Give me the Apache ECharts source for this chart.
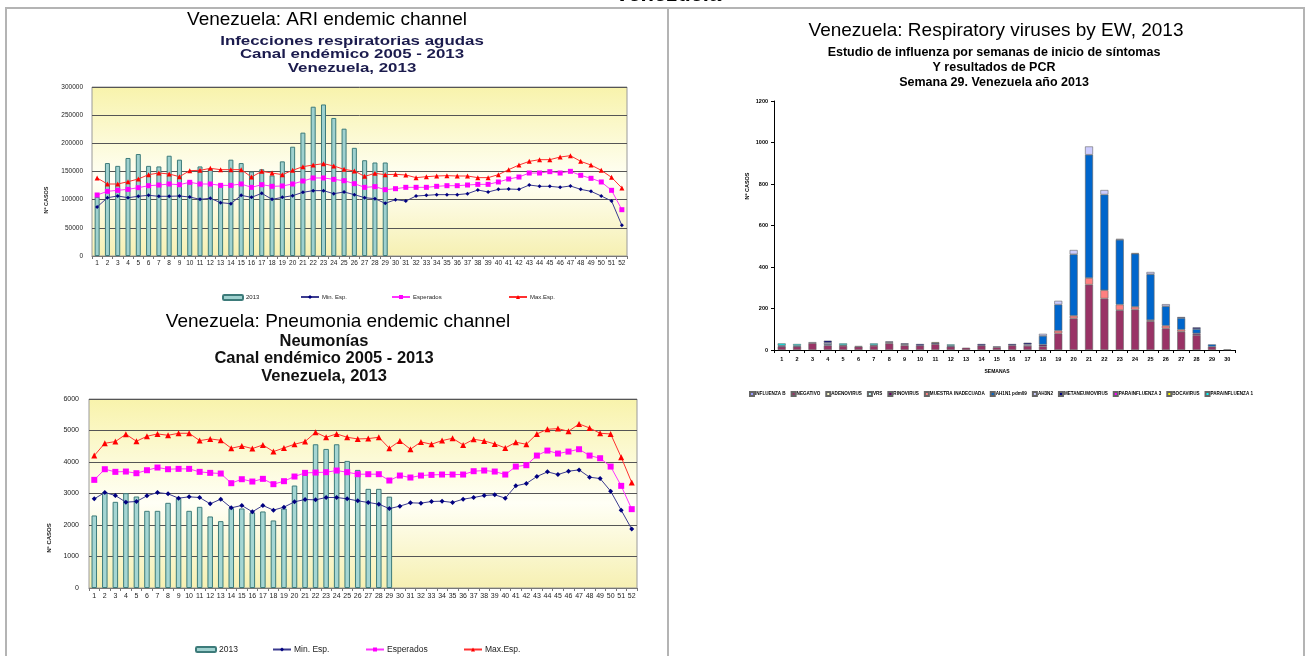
<!DOCTYPE html>
<html><head><meta charset="utf-8">
<script src="https://cdn.jsdelivr.net/npm/echarts@6/dist/echarts.min.js"></script>
<style>html,body{margin:0;padding:0;background:#fff}#c{width:1310px;height:656px}</style>
</head><body><div id="c"></div>
<script>
const weeks52 = ['1','2','3','4','5','6','7','8','9','10','11','12','13','14','15','16','17','18','19','20','21','22','23','24','25','26','27','28','29','30','31','32','33','34','35','36','37','38','39','40','41','42','43','44','45','46','47','48','49','50','51','52'];
const weeks30 = ['1','2','3','4','5','6','7','8','9','10','11','12','13','14','15','16','17','18','19','20','21','22','23','24','25','26','27','28','29','30'];

// ARI endemic channel
const ari2013 = [105000,165000,160000,174000,181000,160000,159000,178000,171000,133000,159000,155000,128000,171000,165000,150000,154000,143000,168000,194000,219000,265000,269000,245000,226000,192000,170000,166000,166000];
const ariMin = [87000,103500,106500,103500,106000,107700,106000,106000,106500,104700,100600,102400,94700,92900,107700,104100,111200,100600,104100,107100,113000,116000,116000,110600,113600,108900,103500,101800,93500,100000,97600,106500,107700,108900,108900,108900,110600,117200,113600,118300,118900,118300,126000,123700,123700,121900,124300,118300,114800,106500,97600,54400];
const ariEsperados = [108300,114800,116600,118300,121300,124800,126000,127800,126600,130800,127800,127800,125400,125400,127800,121900,126600,123700,124300,127800,133100,138500,138500,136100,133700,128400,121900,123100,117700,119500,121900,121900,121900,123700,124800,124800,126000,127200,127200,131400,136700,140200,147300,147300,149700,147300,150300,143200,137900,131400,116600,82200];
const ariMax = [138500,127800,127800,131900,136700,144400,147300,145600,140800,151500,152100,155600,153300,153300,153300,140200,150300,147300,144400,152100,158600,161500,163900,159800,153800,150900,141400,146700,144400,145000,143800,139100,140800,142000,142600,142000,142000,139100,139100,144400,153300,161500,168000,171000,171000,175700,178100,168000,161500,152100,139600,120700];

// Pneumonia endemic channel
const neu2013 = [2303,3042,2736,3010,2905,2450,2450,2704,2852,2450,2577,2271,2123,2535,2525,2398,2430,2144,2525,3253,3591,4563,4415,4563,4035,3750,3148,3148,2900];
const neuMin = [2831,3032,2937,2725,2746,2926,3032,2989,2852,2894,2873,2672,2820,2546,2620,2419,2620,2472,2567,2736,2810,2799,2873,2873,2831,2767,2715,2662,2520,2599,2704,2694,2746,2757,2715,2820,2873,2937,2958,2852,3243,3317,3539,3687,3602,3708,3750,3518,3475,3074,2472,1870];
const neuEsperados = [3433,3771,3687,3697,3644,3739,3824,3771,3782,3782,3687,3655,3634,3327,3454,3380,3465,3296,3391,3539,3655,3665,3676,3729,3676,3613,3613,3613,3412,3570,3507,3570,3591,3602,3602,3602,3708,3729,3697,3602,3855,3898,4204,4363,4268,4331,4405,4204,4120,3855,3243,2503];
const neuMax = [4204,4595,4648,4880,4658,4817,4891,4848,4912,4912,4680,4732,4690,4436,4510,4426,4542,4331,4447,4563,4648,4943,4785,4891,4785,4732,4743,4785,4436,4669,4405,4637,4563,4680,4753,4542,4722,4669,4574,4447,4627,4563,4891,5039,5060,4975,5208,5081,4912,4891,4151,3349];

// Respiratory viruses by EW (weeks 1-30), stacked
const virusNames = ['INFLUENZA B','NEGATIVO','ADENOVIRUS','VRS','RINOVIRUS','MUESTRA INADECUADA','AH1N1 pdm09','AH3N2','METANEUMOVIRUS','PARAINFLUENZA 3','BOCAVIRUS','PARAINFLUENZA 1'];
const influenzaB     = [0,0,0,0,0,0,0,0,0,0,0,0,0,0,0,0,0,0,0,0,0,0,0,0,0,0,0,0,0,0];
const negativo       = [16,16,33,22,20,16,20,32,22,21,28,16,11,21,13,22,20,18,80,152,315,248,192,195,139,104,88,72,16,0];
const adenovirus     = [0,0,0,0,0,0,0,0,0,0,0,0,0,0,0,0,0,0,0,0,0,0,0,0,0,0,0,0,0,0];
const vrs            = [0,0,0,0,0,0,0,0,0,0,0,0,0,0,0,0,0,0,0,0,0,0,0,0,0,0,0,0,0,0];
const rinovirus      = [0,0,0,0,0,0,0,0,0,0,0,0,0,0,0,0,0,8,0,0,0,0,0,0,0,0,0,8,0,0];
const muestraInad    = [0,0,0,0,0,0,0,0,0,0,0,0,0,0,0,0,0,0,13,13,32,40,27,13,5,13,10,0,0,0];
const ah1n1          = [0,0,0,6,0,0,0,0,0,0,0,0,0,0,0,0,0,42,126,296,594,461,312,256,221,94,56,21,11,0];
const ah3n2          = [0,0,5,7,0,0,0,5,5,0,0,0,0,0,0,0,7,10,18,21,40,22,5,3,11,10,0,0,0,0];
const metaneumovirus = [6,5,0,10,4,3,4,4,5,8,6,5,0,8,4,7,8,0,0,0,0,0,0,0,0,0,5,8,0,3];
const parainfluenza3 = [0,0,0,0,0,0,0,0,0,0,0,0,0,0,0,0,0,0,0,0,0,0,0,0,0,0,0,0,0,0];
const bocavirus      = [0,0,0,0,0,0,0,0,0,0,4,0,0,0,0,0,0,0,0,0,0,0,0,0,0,0,0,0,0,0];
const parainfluenza1 = [10,8,0,0,8,0,8,0,0,0,0,6,0,0,0,0,0,0,0,0,0,0,0,0,0,0,0,0,0,0];
const virusValues = [influenzaB,negativo,adenovirus,vrs,rinovirus,muestraInad,ah1n1,ah3n2,metaneumovirus,parainfluenza3,bocavirus,parainfluenza1];
const virusColors = ['#9999FF','#993366','#FFFFCC','#CCFFFF','#660066','#FF8080','#0066CC','#CCCCFF','#000080','#FF00FF','#FFFF00','#00FFFF'];

const FF = 'Liberation Sans, Arial, sans-serif';
const chart = echarts.init(document.getElementById('c'), null, {renderer:'canvas'});

const plotBg = new echarts.graphic.LinearGradient(0,0,0,1,[
  {offset:0,color:'#f8f3ab'},{offset:0.55,color:'#fffff6'},{offset:1,color:'#f6f0b2'}]);

function txt(x,y,text,size,weight,color,rot,sx){
  return {type:'text', x:x, y:y, rotation: rot||0, scaleX: sx||1, silent:true,
    style:{text:text, fontSize:size, fontWeight:weight||'normal', fontFamily:FF, fill:color||'#000', align:'center', verticalAlign:'middle'}};
}
const plain = v => String(v);

const catAxis = (gi, data, fs, margin) => ({
  type:'category', gridIndex:gi, data:data,
  axisLine:{lineStyle:{color:'#777',width:1}},
  axisTick:{show:true,length:3,lineStyle:{color:'#777'}},
  axisLabel:{interval:0,fontSize:fs,color:'#222',fontFamily:FF,margin:margin}
});

const lineSeries = (name, data, xi, color, lineColor, symbol, size) => ({
  name:name, type:'line', xAxisIndex:xi, yAxisIndex:xi, data:data,
  symbol:symbol, symbolSize:size, showSymbol:true,
  lineStyle:{color:lineColor,width:1}, itemStyle:{color:color}, z:5
});

const series = [
  {name:'2013', type:'bar', xAxisIndex:0, yAxisIndex:0, data:ari2013, barWidth:5,
    itemStyle:{color:'#9fd1cf', borderColor:'#3d7b7a', borderWidth:1}},
  lineSeries('Min. Esp.', ariMin, 0, '#000080', '#3b3b8f', 'diamond', 4),
  lineSeries('Esperados', ariEsperados, 0, '#ff00ff', '#ff33ff', 'rect', 5),
  lineSeries('Max.Esp.', ariMax, 0, '#ff0000', '#ff3030', 'triangle', 5),
  {name:'2013', type:'bar', xAxisIndex:1, yAxisIndex:1, data:neu2013, barWidth:5.5,
    itemStyle:{color:'#a5d6d3', borderColor:'#3d7b7a', borderWidth:1}},
  lineSeries('Min. Esp.', neuMin, 1, '#000080', '#3b3b8f', 'diamond', 5),
  lineSeries('Esperados', neuEsperados, 1, '#ff00ff', '#ff33ff', 'rect', 6),
  lineSeries('Max.Esp.', neuMax, 1, '#ff0000', '#ff3030', 'triangle', 6)
];
virusNames.forEach((n,i)=>{
  series.push({name:n, type:'bar', stack:'v', xAxisIndex:2, yAxisIndex:2, barWidth:8,
    data: virusValues[i].map(v => v === 0 ? null : v),
    itemStyle:{color:virusColors[i], borderColor:'#666', borderWidth:0.6}});
});

const legItem = (name, left, top, fs, iw) => ({
  data:[name], left:left, top:top, padding:0, itemWidth:iw, itemHeight:5, itemGap:0,
  textStyle:{fontSize:fs, fontFamily:FF, color:'#222', padding:[0,0,0,-2]}, selectedMode:false
});

const option = {
  animation:false,
  backgroundColor:'#fff',
  textStyle:{fontFamily:FF},
  grid:[
    {left:92, top:87, width:535, height:169, show:true, backgroundColor:plotBg, borderColor:'#9a9a9a', borderWidth:1},
    {left:89, top:399, width:548, height:189, show:true, backgroundColor:plotBg, borderColor:'#9a9a9a', borderWidth:1},
    {left:774, top:101, width:461, height:249, show:false}
  ],
  xAxis:[
    catAxis(0, weeks52, 6.5, 4),
    catAxis(1, weeks52, 7, 5),
    {type:'category', gridIndex:2, data:weeks30,
      axisLine:{lineStyle:{color:'#000',width:1}},
      axisTick:{show:true,length:3,lineStyle:{color:'#000'}},
      axisLabel:{interval:0,fontSize:5.5,fontWeight:'bold',color:'#000',fontFamily:FF,margin:6}}
  ],
  yAxis:[
    {type:'value', gridIndex:0, min:0, max:300000, interval:50000,
      axisLine:{show:false}, axisTick:{show:false},
      axisLabel:{fontSize:6.5,color:'#222',margin:9,fontFamily:FF,formatter:plain},
      splitLine:{lineStyle:{color:'#555',width:1}}},
    {type:'value', gridIndex:1, min:0, max:6000, interval:1000,
      axisLine:{show:false}, axisTick:{show:false},
      axisLabel:{fontSize:7,color:'#222',margin:10,fontFamily:FF,formatter:plain},
      splitLine:{lineStyle:{color:'#555',width:1}}},
    {type:'value', gridIndex:2, min:0, max:1200, interval:200,
      axisLine:{show:true,lineStyle:{color:'#000'}}, axisTick:{show:true,length:3,lineStyle:{color:'#000'}},
      axisLabel:{fontSize:5.5,fontWeight:'bold',color:'#000',margin:6,fontFamily:FF,formatter:plain},
      splitLine:{show:false}}
  ],
  legend:[
    legItem('2013', 222, 294, 6, 20),
    legItem('Min. Esp.', 300, 294, 6, 18),
    legItem('Esperados', 391, 294, 6, 18),
    legItem('Max.Esp.', 508, 294, 6, 18),
    legItem('2013', 195, 645, 8.5, 20),
    legItem('Min. Esp.', 272, 645, 8.5, 18),
    legItem('Esperados', 365, 645, 8.5, 18),
    legItem('Max.Esp.', 463, 645, 8.5, 18),
    {data:virusNames, left:749, top:391, width:560, padding:0, itemWidth:4, itemHeight:4, itemGap:5, icon:'rect',
      textStyle:{fontSize:4.6, fontWeight:'bold', fontFamily:FF, color:'#000', padding:[0,0,0,-4]}, selectedMode:false}
  ],
  graphic:[
    {type:'rect', silent:true, shape:{x:6,y:8,width:1298,height:670}, style:{fill:'none',stroke:'#b4b4b4',lineWidth:2}},
    {type:'line', silent:true, shape:{x1:668,y1:8,x2:668,y2:680}, style:{stroke:'#b4b4b4',lineWidth:2}},
    txt(668,-5,'Venezuela',22,'bold','#000'),
    txt(327,20,'Venezuela: ARI endemic channel',19,'normal','#000'),
    txt(352,41,'Infecciones respiratorias agudas',13.5,'bold','#1b1b4d',0,1.25),
    txt(352,54,'Canal endémico 2005 - 2013',13.5,'bold','#1b1b4d',0,1.25),
    txt(352,68,'Venezuela, 2013',13.5,'bold','#1b1b4d',0,1.25),
    txt(46,200,'Nº CASOS',5.5,'bold','#222',Math.PI/2),
    txt(338,322,'Venezuela: Pneumonia endemic channel',19,'normal','#000'),
    txt(324,341,'Neumonías',16.5,'bold','#111'),
    txt(324,358.5,'Canal endémico 2005 - 2013',16.5,'bold','#111'),
    txt(324,376,'Venezuela, 2013',16.5,'bold','#111'),
    txt(49,538,'Nº CASOS',6,'bold','#222',Math.PI/2),
    txt(996,31,'Venezuela: Respiratory viruses by EW, 2013',19,'normal','#000'),
    txt(994,53,'Estudio de influenza por semanas de inicio de síntomas',12.5,'bold','#000'),
    txt(994,68,'Y resultados de PCR',12.5,'bold','#000'),
    txt(994,83,'Semana 29. Venezuela año 2013',12.5,'bold','#000'),
    txt(747,186,'Nº CASOS',5.5,'bold','#000',Math.PI/2),
    txt(997,372,'SEMANAS',5,'bold','#000')
  ],
  series:series
};
chart.setOption(option);
</script>
</body></html>
